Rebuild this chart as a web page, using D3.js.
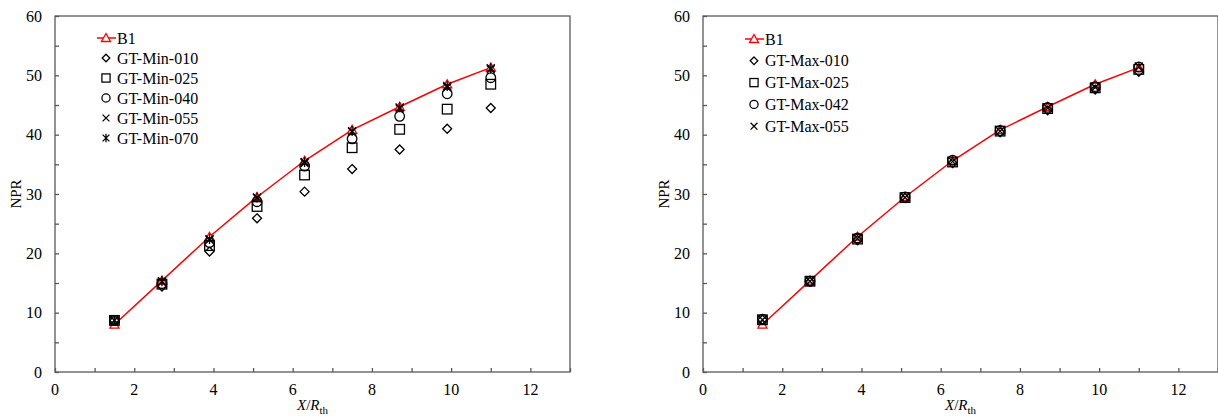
<!DOCTYPE html>
<html lang="en">
<head>
<meta charset="UTF-8">
<title>NPR vs X/Rth</title>
<script src="https://d3js.org/d3.v7.min.js"></script>
<style>
  body { margin: 0; background: #fff; }
  .frame { fill: none; stroke: #595959; stroke-width: 1.3px; }
  .tick line { stroke: #595959; stroke-width: 1.3px; }
</style>
</head>
<body>
<script>
// data
var xVals = [1.5, 2.7, 3.9, 5.1, 6.3, 7.5, 8.7, 9.9, 11];
var b1 = [8.0, 15.4, 22.8, 29.5, 35.6, 40.8, 44.7, 48.5, 51.3];

var minNames = ["GT-Min-010", "GT-Min-025", "GT-Min-040", "GT-Min-055", "GT-Min-070"];
var min010 = [8.7, 14.4, 20.3, 25.9, 30.4, 34.2, 37.5, 41.0, 44.5];
var min025 = [8.7, 14.8, 21.3, 27.9, 33.2, 37.8, 40.9, 44.3, 48.5];
var min040 = [8.7, 14.9, 21.8, 28.7, 34.7, 39.3, 43.1, 46.9, 49.6];
var min055 = [8.7, 15.2, 22.3, 29.3, 35.2, 40.5, 44.4, 48.0, 51.0];
var min070 = [8.7, 15.3, 22.4, 29.4, 35.4, 40.6, 44.6, 48.2, 51.2];

var maxNames = ["GT-Max-010", "GT-Max-025", "GT-Max-042", "GT-Max-055"];
var max010 = [8.8, 15.2, 22.2, 29.3, 35.2, 40.4, 44.1, 47.6, 50.6];
var max025 = [8.8, 15.3, 22.4, 29.4, 35.4, 40.6, 44.4, 47.9, 51.0];
var max042 = [8.9, 15.3, 22.6, 29.5, 35.7, 40.7, 44.6, 48.1, 51.4];
var max055 = [8.8, 15.3, 22.5, 29.4, 35.5, 40.6, 44.5, 48.0, 51.5];

var xTicks = [0, 2, 4, 6, 8, 10, 12];
var yTicks = [0, 10, 20, 30, 40, 50, 60];

var serif = "'Liberation Serif', 'DejaVu Serif', 'Times New Roman', serif";

var width = 1218, height = 416;
var svg = d3.select("body").append("svg")
    .attr("width", width)
    .attr("height", height)
    .style("font-family", serif);

var plotW = 515, plotTop = 16, plotBottom = 372;

// marker shapes, hollow black
var shapes = {
    diamond: function(g){ g.append("path").attr("d", "M0,-4.5L4.5,0L0,4.5L-4.5,0Z"); },
    square: function(g){ g.append("rect").attr("x", -4.8).attr("y", -4.8).attr("width", 9.6).attr("height", 9.6); },
    circle: function(g){ g.append("circle").attr("r", 4.8); },
    cross: function(g){ g.append("path").attr("d", "M-4,-4L4,4M4,-4L-4,4"); },
    star: function(g){ g.append("path").attr("d", "M-4,-4L4,4M4,-4L-4,4M0,-5L0,5"); }
};

function drawPanel(left, names, series, kinds, legY, legStep) {
    var x = d3.scaleLinear().domain([0, 13]).range([left, left + plotW]);
    var y = d3.scaleLinear().domain([0, 60]).range([plotBottom, plotTop]);

    var g = svg.append("g");

    g.append("rect").attr("class", "frame")
        .attr("x", left).attr("y", plotTop)
        .attr("width", plotW).attr("height", plotBottom - plotTop);

    // inward ticks
    var xAxis = g.append("g").attr("transform", "translate(0," + plotBottom + ")")
        .call(d3.axisBottom(x).tickValues(d3.range(0, 14, 1)).tickSize(-4).tickFormat(""));
    xAxis.select(".domain").remove();
    var yAxis = g.append("g").attr("transform", "translate(" + left + ",0)")
        .call(d3.axisLeft(y).tickValues(d3.range(0, 61, 5)).tickSize(-4).tickFormat(""));
    yAxis.select(".domain").remove();

    g.selectAll(".xl").data(xTicks).enter().append("text")
        .attr("x", function(d){ return x(d); })
        .attr("y", 395)
        .attr("text-anchor", "middle")
        .style("font-family", serif)
        .style("font-size", "16px")
        .text(function(d){ return d; });

    g.selectAll(".yl").data(yTicks).enter().append("text")
        .attr("x", left - 13)
        .attr("y", function(d){ return y(d) + 5.5; })
        .attr("text-anchor", "end")
        .style("font-family", serif)
        .style("font-size", "16px")
        .text(function(d){ return d; });

    g.append("text")
        .attr("transform", "translate(" + (left - 34) + "," + y(30) + ") rotate(-90)")
        .attr("text-anchor", "middle")
        .style("font-family", serif)
        .style("font-size", "15px")
        .text("NPR");

    var xt = g.append("text")
        .attr("x", left + plotW / 2)
        .attr("y", 410)
        .attr("text-anchor", "middle")
        .style("font-family", serif)
        .style("font-size", "15px");
    xt.append("tspan").style("font-style", "italic").text("X");
    xt.append("tspan").text("/");
    xt.append("tspan").style("font-style", "italic").text("R");
    xt.append("tspan").attr("dy", 4).style("font-size", "11px").text("th");

    // B1 line with triangles (drawn under the GT markers)
    var line = d3.line()
        .x(function(d, j){ return x(xVals[j]); })
        .y(function(d){ return y(d); });
    g.append("path").datum(b1)
        .attr("d", line)
        .attr("fill", "none")
        .attr("stroke", "#ff0000")
        .attr("stroke-width", 1.5);
    var tri = "M0,-4.5L4.5,3.5L-4.5,3.5Z";
    g.selectAll(".b1").data(b1).enter().append("path")
        .attr("d", tri)
        .attr("transform", function(d, j){ return "translate(" + x(xVals[j]) + "," + y(d) + ")"; })
        .attr("fill", "#fff")
        .attr("stroke", "#ff0000")
        .attr("stroke-width", 1.3);

    // markers of the GT series
    series.forEach(function(vals, i) {
        var pts = g.append("g").attr("fill", "none").attr("stroke", "#000").attr("stroke-width", 1.3)
            .selectAll("g").data(vals).enter().append("g")
            .attr("transform", function(d, j){ return "translate(" + x(xVals[j]) + "," + y(d) + ")"; });
        pts.each(function(){ shapes[kinds[i]](d3.select(this)); });
    });

    // legend
    var lx = left + 51;
    var leg = g.append("g");
    leg.append("line")
        .attr("x1", lx - 9).attr("x2", lx + 10)
        .attr("y1", legY).attr("y2", legY)
        .attr("stroke", "#ff0000").attr("stroke-width", 1.5);
    leg.append("path").attr("d", tri)
        .attr("transform", "translate(" + lx + "," + legY + ")")
        .attr("fill", "#fff").attr("stroke", "#ff0000").attr("stroke-width", 1.3);
    leg.append("text").attr("x", lx + 11).attr("y", legY + 5.5)
        .style("font-family", serif)
        .style("font-size", "16px").text("B1");

    names.forEach(function(name, i) {
        var yy = legY + legStep * (i + 1);
        var m = leg.append("g")
            .attr("transform", "translate(" + lx + "," + yy + ") scale(0.85)")
            .attr("fill", "none").attr("stroke", "#000").attr("stroke-width", 1.5);
        shapes[kinds[i]](m);
        leg.append("text").attr("x", lx + 11).attr("y", yy + 5.5)
            .style("font-family", serif)
            .style("font-size", "16px").text(name);
    });
}

drawPanel(55, minNames, [min010, min025, min040, min055, min070],
    ["diamond", "square", "circle", "cross", "star"], 38, 20);
drawPanel(703, maxNames, [max010, max025, max042, max055],
    ["diamond", "square", "circle", "cross"], 39, 21.8);
</script>
</body>
</html>
